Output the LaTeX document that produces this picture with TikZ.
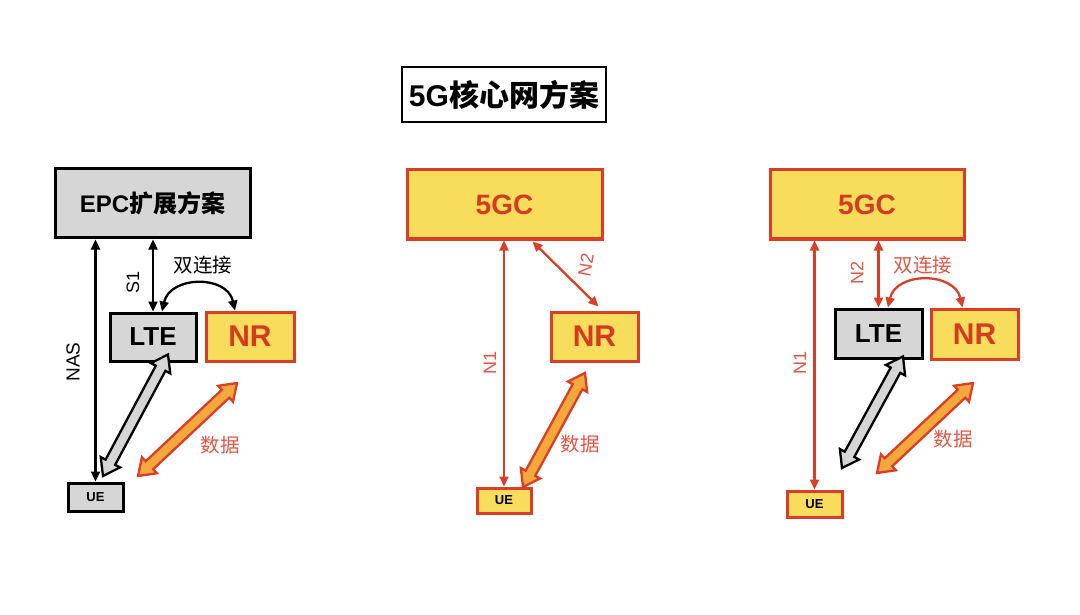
\documentclass[tikz,border=0pt]{standalone}
\usepackage{fontspec}
\setmainfont{Liberation Sans}
\newfontfamily\cjk{Noto Sans CJK SC}
\usetikzlibrary{arrows.meta,calc,shapes.arrows}
\definecolor{yfill}{RGB}{248,221,92}
\definecolor{rline}{RGB}{218,62,40}
\definecolor{rtext}{RGB}{214,58,32}
\definecolor{lred}{RGB}{226,86,70}
\definecolor{gfill}{RGB}{214,214,214}
\definecolor{ofill}{RGB}{245,168,60}
\tikzset{
  graybox/.style={draw=black,fill=gfill,line width=3pt,inner sep=0pt},
  yelbox/.style={draw=rline,fill=yfill,line width=3pt,inner sep=0pt,text=rtext},
  thin/.style={line width=2.3pt,{Triangle[length=10pt,width=9pt]}-{Triangle[length=10pt,width=9pt]}},
  fatarr/.style={shape=double arrow,draw,line width=2.3pt,inner sep=4.3pt,
    double arrow head extend=5.5pt,double arrow tip angle=70},
  blackfat/.style={fatarr,draw=black,fill=gfill},
  orangefat/.style={fatarr,draw=rline,fill=ofill},
  lbl/.style={font=\fontsize{18}{18}\selectfont},
  clbl/.style={font=\fontsize{19.5}{19.5}\selectfont\cjk},
  big/.style={font=\fontsize{28}{28}\selectfont\bfseries},
  lteF/.style={font=\fontsize{26}{26}\selectfont\bfseries},
  nrF/.style={font=\fontsize{30}{30}\selectfont\bfseries},
  ueF/.style={font=\fontsize{13}{13}\selectfont\bfseries},
}
\newcommand\fatarrow[4]{%
  \path let \p1=($(#4)-(#3)$), \n1={atan2(\y1,\x1)}, \n2={veclen(\x1,\y1)} in
    node[#1,rotate=\n1,minimum height=\n2] (#2) at ($(#3)!0.5!(#4)$) {};}
\begin{document}
\begin{tikzpicture}[x=1pt,y=-1pt]
\useasboundingbox[fill=white] (0,0) rectangle (1080,615);
% title
\node[draw=black,line width=1.5pt,minimum width=204pt,minimum height=55pt,inner sep=0pt,
  font=\fontsize{30}{30}\selectfont\bfseries] (title) at (504,94.5) {5G{\cjk 核心网方案}};
% ---------- left ----------
\node[graybox,minimum width=195pt,minimum height=69pt,font=\fontsize{24}{24}\selectfont\bfseries] (epc) at (152.5,203.5) {EPC{\cjk 扩展方案}};
\node[graybox,minimum width=86pt,minimum height=48pt,lteF] (lte1) at (153,337) {LTE};
\node[yelbox,minimum width=88pt,minimum height=49pt,nrF] (nr1) at (250,336.5) {NR};
\node[graybox,minimum width=55pt,minimum height=28pt,ueF] (ue1) at (95.5,497) {UE};
\draw[thin] (ue1.north |- epc.south) -- (ue1.north);
\draw[thin] (lte1.north |- epc.south) -- (lte1.north);
\draw[thin] ($(lte1.north)+(9,0)$) .. controls ($(lte1.north)+(17,-36)$) and ($(nr1.north)+(-23,-36)$) .. ($(nr1.north)+(-15,0)$);
\node[lbl,rotate=90] (s1) at (133,282) {S1};
\node[lbl,rotate=90,font=\fontsize{19}{19}\selectfont] (nas) at (73,362) {NAS};
\node[clbl] (dc1) at (203,265) {双连接};
\coordinate (a1) at ($(lte1.south)+(15,-8)$);
\coordinate (b1) at (103,476);
\fatarrow{blackfat}{f1}{b1}{a1}
\coordinate (c1) at (237,383);
\coordinate (d1) at (138,476);
\fatarrow{orangefat}{g1}{d1}{c1}
\node[clbl,text=lred] (data1) at (220,445) {数据};
% ---------- middle ----------
\node[yelbox,minimum width=195pt,minimum height=69pt,big] (core2) at (504.5,204.5) {5GC};
\node[yelbox,minimum width=87pt,minimum height=49pt,nrF] (nr2) at (594.5,336.5) {NR};
\node[yelbox,text=black,minimum width=54pt,minimum height=25pt,ueF] (ue2) at (504,500.5) {UE};
\draw[thin,draw=rline] (ue2.north |- core2.south) -- (ue2.north);
\draw[thin,draw=rline] ($(core2.south)+(28,1)$) -- ($(nr2.north)+(4,-4)$);
\node[lbl,rotate=80,text=lred] (n2m) at (586,265) {N2};
\node[lbl,rotate=90,text=lred] (n1m) at (490,363) {N1};
\coordinate (c2) at (585,373);
\coordinate (d2) at (523,487);
\fatarrow{orangefat}{g2}{d2}{c2}
\node[clbl,text=lred] (data2) at (580,444) {数据};
% ---------- right ----------
\node[yelbox,minimum width=194pt,minimum height=69pt,big] (core3) at (867,204.5) {5GC};
\node[graybox,minimum width=87pt,minimum height=49pt,lteF] (lte3) at (878.5,333.5) {LTE};
\node[yelbox,minimum width=87pt,minimum height=50pt,nrF] (nr3) at (974.5,334) {NR};
\node[yelbox,text=black,minimum width=55pt,minimum height=26pt,ueF] (ue3) at (814.5,504) {UE};
\draw[thin,draw=rline] (ue3.north |- core3.south) -- (ue3.north);
\draw[thin,draw=rline] (lte3.north |- core3.south) -- (lte3.north);
\draw[thin,draw=rline] ($(lte3.north)+(9.5,0)$) .. controls ($(lte3.north)+(17.5,-36)$) and ($(nr3.north)+(-20,-36)$) .. ($(nr3.north)+(-12,0)$);
\node[lbl,rotate=90,text=lred] (n2r) at (857,273) {N2};
\node[lbl,rotate=90,text=lred] (n1r) at (800,363) {N1};
\node[clbl,text=lred] (dc3) at (923,265) {双连接};
\coordinate (a3) at ($(lte3.south)+(24.5,-3)$);
\coordinate (b3) at (842,468);
\fatarrow{blackfat}{f3}{b3}{a3}
\coordinate (c3) at (973,383);
\coordinate (d3) at (877,473);
\fatarrow{orangefat}{g3}{d3}{c3}
\node[clbl,text=lred] (data3) at (953,439) {数据};
\end{tikzpicture}
\end{document}
